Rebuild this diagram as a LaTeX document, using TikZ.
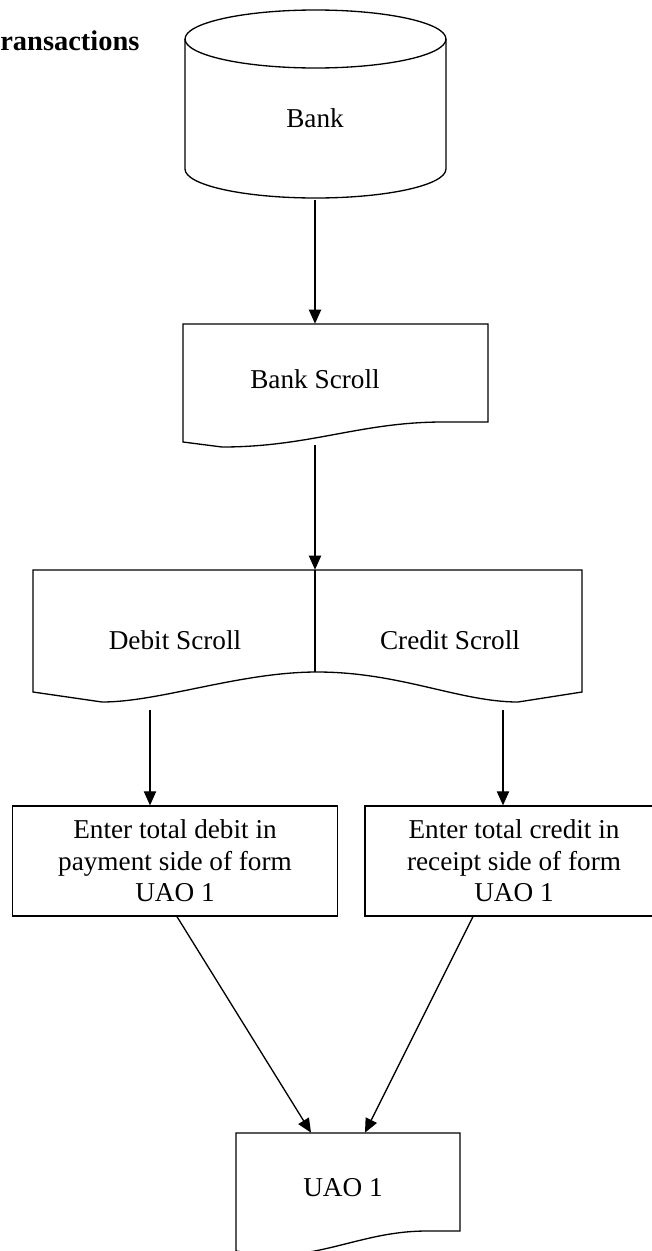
\documentclass[tikz,border=0pt]{standalone}
\usepackage{fontspec}
\setmainfont{Liberation Serif}
\usepackage{tikz}
\usetikzlibrary{
  positioning,
  arrows.meta,
  calc
}
\definecolor{LineBlack}{RGB}{0,0,0}
\newcommand{\flowfont}{\fontsize{15.5}{17.9}\selectfont}
\tikzset{
  % Outline of a drawn shape (cylinder, scroll)
  outline/.style={
    draw=LineBlack,
    line width=0.75pt,
    line join=miter
  },
  % Text sitting inside a drawn shape
  shapetext/.style={
    inner sep=0pt,
    align=center,
    font=\flowfont
  },
  % Process box
  procbox/.style={
    rectangle,
    draw=LineBlack,
    line width=0.75pt,
    minimum height=2.2cm,
    align=center,
    inner sep=2pt,
    font=\flowfont
  },
  % Flow arrow
  flow/.style={
    draw=LineBlack,
    line width=0.75pt,
    -{Triangle[length=8pt, width=7pt]}
  },
  % Heading
  heading/.style={inner sep=0pt, font=\fontsize{16.2}{19}\selectfont\bfseries}
}

\begin{document}
\begin{tikzpicture}[x=0.02cm, y=0.02cm]
  \useasboundingbox (0,0) rectangle (652,-1251);
  \clip (0,0) rectangle (652,-1251);
  % Heading
  \node[heading, anchor=base west] (title) at (0,-50) {ransactions};
  % Bank (cylinder)
  \draw[outline] (185,-39) -- (185,-169)
    arc[start angle=180, end angle=360, x radius=2.61cm, y radius=0.58cm] -- (446,-39);
  \draw[outline] (315.5,-39) ellipse [x radius=2.61cm, y radius=0.58cm];
  \node[shapetext, minimum height=3.28cm] (bank) at (315,-118) {Bank};
  % Bank Scroll (document)
  \draw[outline] (183,-324) -- (488,-324) -- (488,-422) -- (443,-422)
    .. controls (360,-422) and (310,-447) .. (222,-447) -- (183,-442) -- cycle;
  \node[shapetext, minimum height=2.2cm] (bs) at (315,-379) {Bank Scroll};
  % Debit / Credit Scroll (document split in two)
  \draw[outline] (33,-570) -- (582,-570) -- (582,-692) -- (518,-702)
    .. controls (460,-702) and (400,-672) .. (317,-672)
    .. controls (240,-672) and (160,-702) .. (102,-702) -- (33,-692) -- cycle;
  \draw[outline] (315,-570) -- (315,-672);
  \node[shapetext, minimum height=2.8cm] (debit) at (175,-640) {Debit Scroll};
  \node[shapetext, minimum height=2.8cm] (credit) at (450,-640) {Credit Scroll};
  % Entry boxes
  \node[procbox, minimum width=6.5cm] (entdebit) at (175,-861)
    {Enter total debit in\\payment side of form\\UAO 1};
  \node[procbox, minimum width=5.96cm] (entcredit) at (514,-861)
    {Enter total credit in\\receipt side of form\\UAO 1};
  % UAO 1 (document)
  \draw[outline] (236,-1133) -- (460,-1133) -- (460,-1231) -- (427,-1231)
    .. controls (366,-1231) and (329,-1256) .. (265,-1256) -- (236,-1251) -- cycle;
  \node[shapetext, minimum height=2.2cm] (uao) at (343,-1188) {UAO 1};
  % Arrows
  \draw[flow] (bank.south) -- (bs.north);
  \draw[flow, shorten <=0.22cm] (bs.south) -- (bs.south |- debit.north);
  \draw[flow] ($(debit.south)+(-25,0)$) coordinate (dtail) -- (dtail |- entdebit.north);
  \draw[flow] ($(credit.south)+(53,0)$) coordinate (ctail) -- (ctail |- entcredit.north);
  \draw[flow] ($(entdebit.south)+(2,0)$) -- ($(uao.north)+(-32,0)$);
  \draw[flow] ($(entcredit.south)+(-41,0)$) -- ($(uao.north)+(22,0)$);
\end{tikzpicture}
\end{document}
